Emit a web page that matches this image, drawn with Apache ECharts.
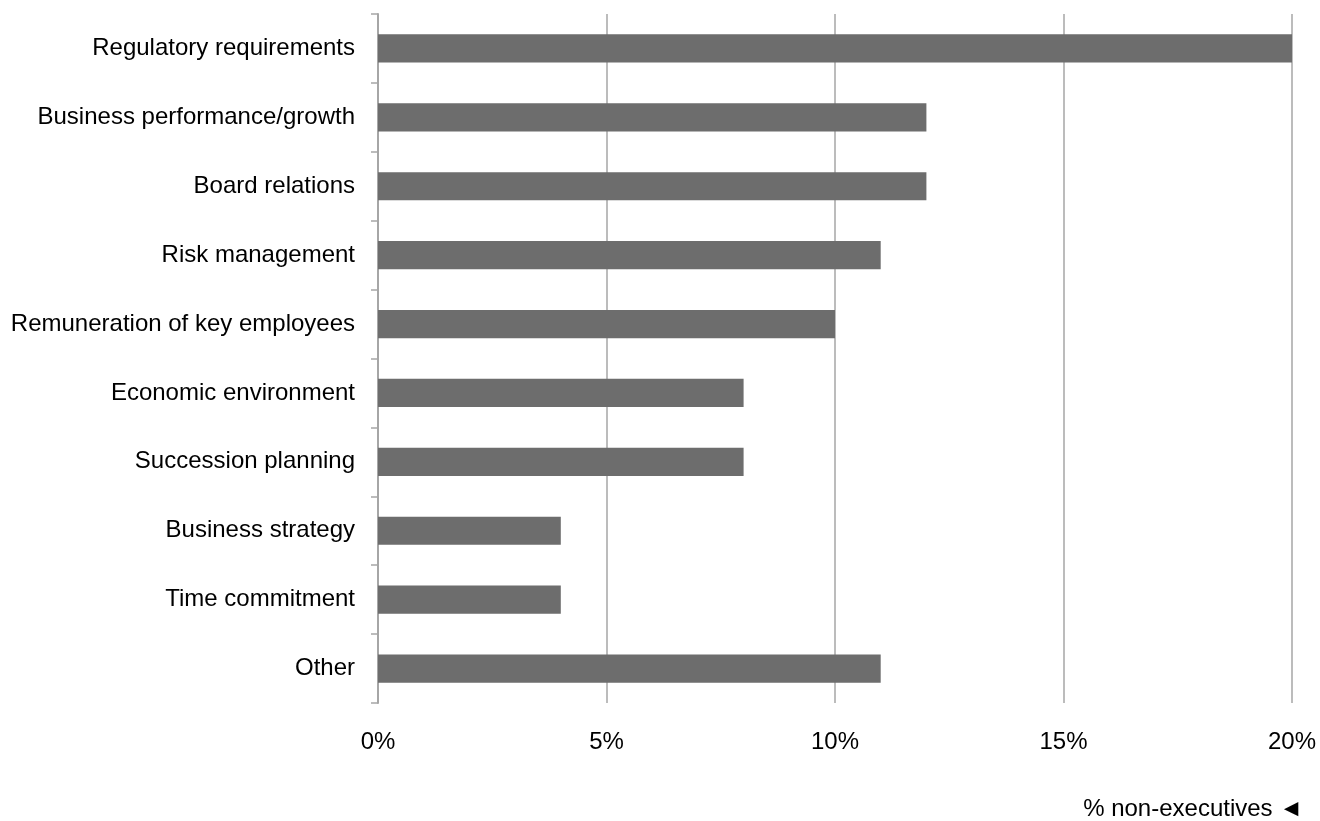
<!DOCTYPE html>
<html>
<head>
<meta charset="utf-8">
<script src="https://cdn.jsdelivr.net/npm/echarts@6/dist/echarts.min.js"></script>
<style>
  html, body { margin: 0; padding: 0; background: #fff; }
  #chart { width: 1320px; height: 821px; }
</style>
</head>
<body>
<div id="chart"></div>
<script>
// Reasons cited, top to bottom
const categories = [
  'Regulatory requirements',
  'Business performance/growth',
  'Board relations',
  'Risk management',
  'Remuneration of key employees',
  'Economic environment',
  'Succession planning',
  'Business strategy',
  'Time commitment',
  'Other'
];
// Share of non-executives, in percent
const shares = [20, 12, 12, 11, 10, 8, 8, 4, 4, 11];
const xTicks = [0, 5, 10, 15, 20];
const axisTitle = '% non-executives \u25C4';

const font = '"Liberation Sans", Arial, sans-serif';
const chart = echarts.init(document.getElementById('chart'));
chart.setOption({
  animation: false,
  backgroundColor: '#ffffff',
  grid: { left: 378, right: 28, top: 14, bottom: 118, containLabel: false },
  xAxis: {
    type: 'value',
    min: xTicks[0],
    max: xTicks[xTicks.length - 1],
    interval: 5,
    axisLine: { show: false },
    axisTick: { show: false },
    splitLine: { show: true, lineStyle: { color: '#a6a6a6', width: 1.5 } },
    axisLabel: {
      margin: 27,
      color: '#000',
      fontFamily: font,
      fontSize: 24,
      formatter: v => v + '%'
    }
  },
  yAxis: {
    type: 'category',
    inverse: true,
    data: categories,
    axisLine: { show: true, lineStyle: { color: '#a6a6a6', width: 2 } },
    axisTick: { show: true, length: 7, lineStyle: { color: '#a6a6a6', width: 1.5 } },
    axisLabel: {
      margin: 23,
      color: '#000',
      fontFamily: font,
      fontSize: 24
    }
  },
  graphic: [{
    type: 'text',
    x: 1303,
    y: 809,
    style: {
      text: axisTitle,
      font: '24px ' + font,
      fill: '#000',
      align: 'right',
      verticalAlign: 'middle'
    }
  }],
  series: [{
    type: 'bar',
    data: shares,
    barCategoryGap: '59%',
    itemStyle: { color: '#6d6d6d' }
  }]
});
</script>
</body>
</html>
